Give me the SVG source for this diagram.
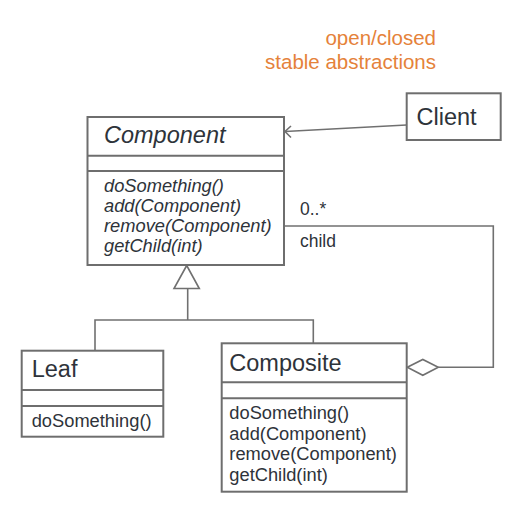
<svg xmlns="http://www.w3.org/2000/svg" width="515" height="511" viewBox="0 0 515 511">
<style>
.box{fill:#fff;stroke:#6e6e6e;stroke-width:2}
.sep{stroke:#6e6e6e;stroke-width:2}
.t{font-family:"Liberation Sans",Arial,sans-serif;fill:#2e333a}
.title{font-size:23.5px}
.m{font-size:18.3px}
.it{font-style:italic}
.lbl{font-size:17.5px}
.conn{fill:none;stroke:#707070;stroke-width:1.6}
.note{font-family:"Liberation Sans",Arial,sans-serif;font-size:20.5px;fill:#e5823a}
</style>
<rect width="515" height="511" fill="#fff"/>
<g id="notes">
<text class="note" x="436" y="45" text-anchor="end">open/closed</text>
<text class="note" x="436" y="68.5" text-anchor="end">stable abstractions</text>
</g>
<g id="connectors">
<line class="conn" x1="406.5" y1="125" x2="285" y2="131.5"/>
<polyline class="conn" points="291,126 285,131.5 291,137.5"/>
<polygon class="conn" points="186.7,265.5 199.3,288.5 174,288.5" fill="#fff"/>
<polyline class="conn" points="187.7,288.5 187.7,320"/>
<polyline class="conn" points="95,350.7 95,320 313.3,320 313.3,343.3"/>
<polyline class="conn" points="284,226 493.3,226 493.3,367.3 438.3,367.3"/>
<polygon class="conn" points="407.3,367.3 422.8,359.5 438.3,367.3 422.8,375.3" fill="#fff"/>
<text class="t lbl" x="300" y="215">0..*</text>
<text class="t lbl" x="300" y="246.5">child</text>
</g>
<g id="Client">
<rect class="box" x="406.7" y="93.3" width="94" height="46.7"/>
<text class="t title" x="416.5" y="125">Client</text>
</g>
<g id="Component">
<rect class="box" x="87.5" y="117" width="196.5" height="148"/>
<line class="sep" x1="87.5" y1="155.7" x2="284" y2="155.7"/>
<line class="sep" x1="87.5" y1="171" x2="284" y2="171"/>
<text class="t title it" x="104" y="143">Component</text>
<text class="t m it" x="104" y="191.7">doSomething()</text>
<text class="t m it" x="104" y="211.7">add(Component)</text>
<text class="t m it" x="104" y="231.7">remove(Component)</text>
<text class="t m it" x="104" y="252">getChild(int)</text>
</g>
<g id="Leaf">
<rect class="box" x="21.7" y="350.7" width="141.6" height="86"/>
<line class="sep" x1="21.7" y1="390" x2="163.3" y2="390"/>
<line class="sep" x1="21.7" y1="406" x2="163.3" y2="406"/>
<text class="t title" x="31.7" y="377.3">Leaf</text>
<text class="t m" x="31.7" y="426.7">doSomething()</text>
</g>
<g id="Composite">
<rect class="box" x="221.7" y="343.3" width="185" height="148.4"/>
<line class="sep" x1="221.7" y1="382.3" x2="406.7" y2="382.3"/>
<line class="sep" x1="221.7" y1="398.3" x2="406.7" y2="398.3"/>
<text class="t title" x="229.3" y="371">Composite</text>
<text class="t m" x="229.3" y="419">doSomething()</text>
<text class="t m" x="229.3" y="439.5">add(Component)</text>
<text class="t m" x="229.3" y="460">remove(Component)</text>
<text class="t m" x="229.3" y="480.5">getChild(int)</text>
</g>
</svg>
